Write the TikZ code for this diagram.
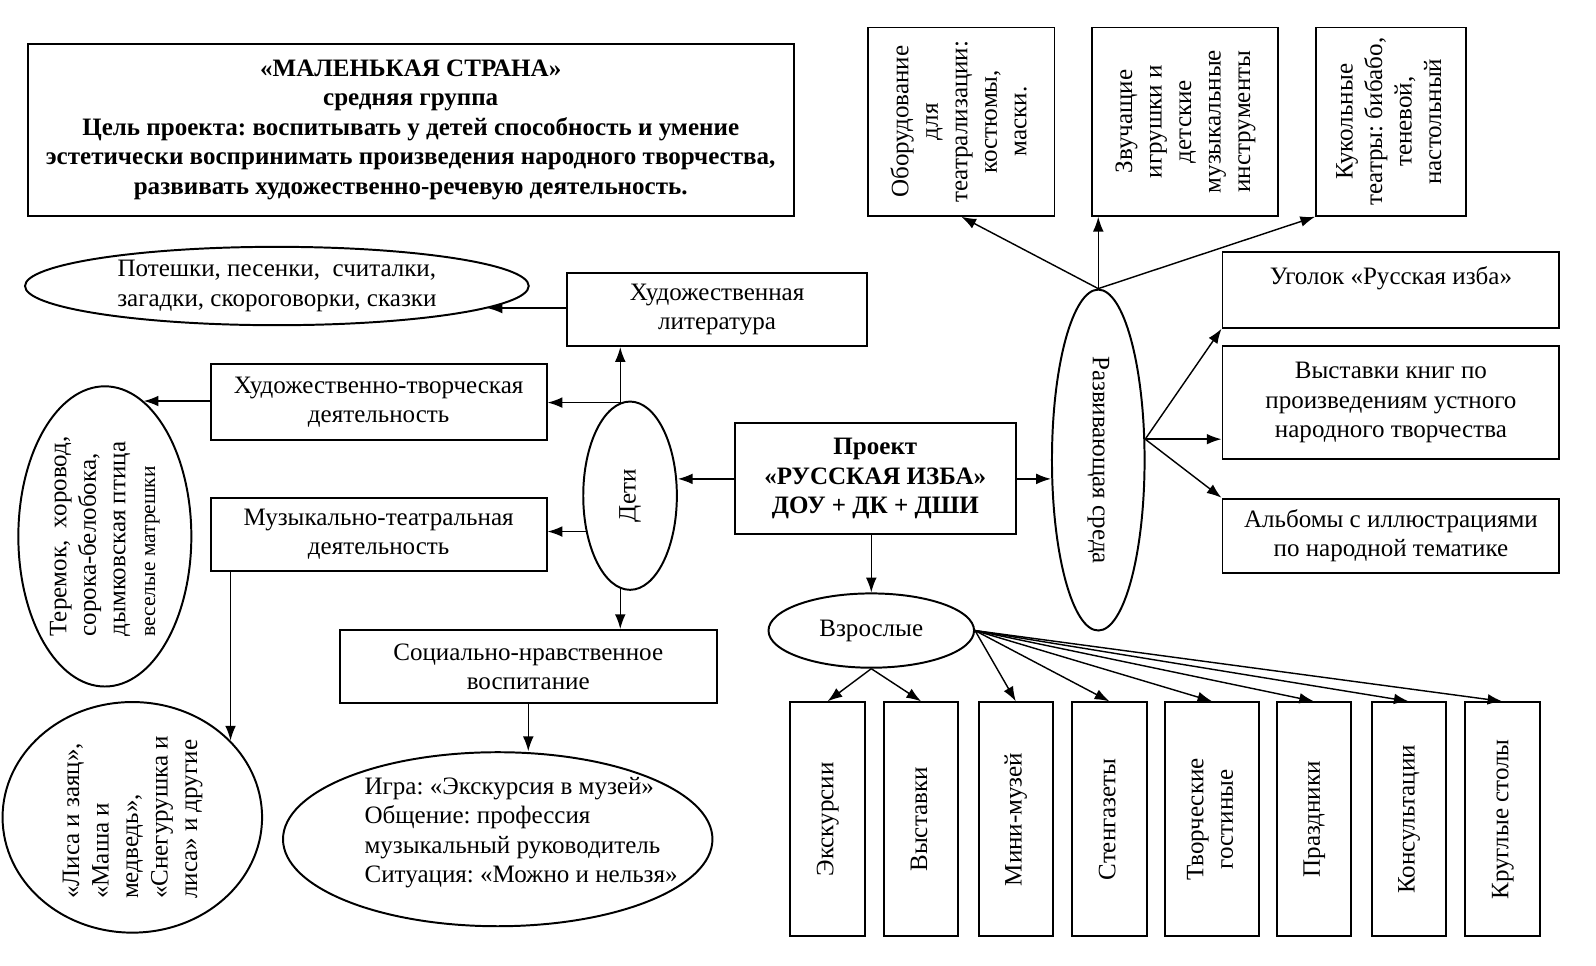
\documentclass[tikz,border=0pt]{standalone}
\usepackage{fontspec}
\setmainfont{Liberation Serif}
\usepackage{graphicx}
\usetikzlibrary{shapes, arrows.meta, positioning, calc}
\frenchspacing

\newcommand{\vtxt}[2][90]{\rotatebox{#1}{\begin{tabular}{@{}c@{}}#2\end{tabular}}}
\newcommand{\vtxtl}[1]{\rotatebox{90}{\begin{tabular}{@{}l@{}}#1\end{tabular}}}

\begin{document}
\begin{tikzpicture}[x=0.02cm, y=-0.02cm,
  font=\fontsize{14}{16.5}\selectfont,
  box/.style={draw, line width=1.1pt, align=center, inner sep=2pt},
  oval/.style={draw, ellipse, line width=1.1pt, align=center, inner sep=0pt},
  tallbox/.style={box, minimum width=1.46cm, minimum height=4.6cm},
  arr/.style={-{Latex[length=2.9mm, width=2.1mm]}, line width=0.8pt}]
  \useasboundingbox (0,0) rectangle (1568,949);

  % Title
  \node[box, font=\fontsize{14}{16.5}\selectfont\bfseries, minimum width=15.06cm, minimum height=3.38cm] (title) at (403.5,127.5) {
    «МАЛЕНЬКАЯ СТРАНА»\\
    средняя группа\\
    Цель проекта: воспитывать у детей способность и умение\\
    эстетически воспринимать произведения народного творчества,\\
    развивать художественно-речевую деятельность.
  };

  % Environment, top row
  \node[box, minimum width=3.66cm, minimum height=3.7cm] (equip) at (944.5,119.5) {\vtxt{Оборудование\\для\\театрализации:\\костюмы,\\маски.}};
  \node[box, minimum width=3.66cm, minimum height=3.7cm] (toys) at (1164.5,119.5) {\vtxt{Звучащие\\игрушки и\\детские\\музыкальные\\инструменты}};
  \node[box, minimum width=2.94cm, minimum height=3.7cm] (puppet) at (1366.5,119.5) {\vtxt{Кукольные\\театры: бибабо,\\теневой,\\настольный}};

  % Environment
  \node[oval, minimum width=1.82cm, minimum height=6.7cm] (env) at (1079,452) {\rotatebox{-90}{Развивающая среда}};
  \node[box, minimum width=6.62cm, minimum height=1.48cm] (corner) at (1366.5,285) {Уголок «Русская изба»\\[-5pt] \strut};
  \node[box, minimum width=6.62cm, minimum height=2.22cm] (books) at (1366.5,395.5) {Выставки книг по\\произведениям устного\\народного творчества};
  \node[box, minimum width=6.62cm, minimum height=1.46cm] (album) at (1366.5,526.5) {Альбомы с иллюстрациями\\по народной тематике};

  % Project
  \node[box, font=\fontsize{14}{16.5}\selectfont\bfseries, minimum width=5.52cm, minimum height=2.18cm] (proj) at (860,470.5) {Проект\\«РУССКАЯ ИЗБА»\\ДОУ + ДК + ДШИ};

  % Children
  \node[oval, minimum width=1.84cm, minimum height=3.7cm] (kids) at (619,487) {\rotatebox{90}{Дети}};
  \node[box, minimum width=5.9cm, minimum height=1.44cm] (lit) at (704.5,304) {Художественная\\литература};
  \node[oval, minimum width=9.9cm, minimum height=1.54cm] (rhymes) at (272,281) {Потешки, песенки,\ \ считалки,\\загадки, скороговорки, сказки};
  \node[box, minimum width=6.6cm, minimum height=1.48cm] (art) at (372,395) {Художественно-творческая\\деятельность};
  \node[oval, minimum width=3.4cm, minimum height=5.9cm] (teremok) at (103,527) {\vtxtl{Теремок,\ \ хоровод,\\сорока-белобока,\\дымковская птица\\{\fontsize{12}{14}\selectfont веселые матрешки}}};
  \node[box, minimum width=6.6cm, minimum height=1.44cm] (music) at (372,525) {Музыкально-театральная\\деятельность};
  \node[oval, minimum width=5.1cm, minimum height=4.5cm] (fox) at (130,803) {\vtxtl{«Лиса и заяц»,\\«Маша и\\медведь»,\\«Снегурушка и\\лиса» и другие}};
  \node[box, minimum width=7.4cm, minimum height=1.44cm] (social) at (519,655) {Социально-нравственное\\воспитание};
  \node[oval, minimum width=8.44cm, minimum height=3.42cm] (game) at (489,824.5) {};
  \node[align=left] (gametext) at (512,818) {Игра: «Экскурсия в музей»\\Общение: профессия\\музыкальный руководитель\\Ситуация: «Можно и нельзя»};

  % Adults
  \node[oval, minimum width=4.04cm, minimum height=1.46cm] (adults) at (856,619.5) {Взрослые};
  \node[tallbox] (excur) at (813,805) {\vtxt{Экскурсии}};
  \node[tallbox] (exhib) at (905,805) {\vtxt{Выставки}};
  \node[tallbox] (minimus) at (998,805) {\vtxt{Мини-музей}};
  \node[tallbox] (news) at (1090,805) {\vtxt{Стенгазеты}};
  \node[tallbox, minimum width=1.84cm] (salon) at (1191,805) {\vtxt{Творческие\\гостиные}};
  \node[tallbox] (fest) at (1291,805) {\vtxt{Праздники}};
  \node[tallbox] (consult) at (1384,805) {\vtxt{Консультации}};
  \node[tallbox] (round) at (1476,805) {\vtxt{Круглые столы}};

  % Project links
  \draw[arr] (proj.west) -- (proj.west -| kids.east);
  \draw[arr] (proj.east) -- (proj.east -| env.west);
  \draw[arr] (proj.south -| adults.north) -- (adults.north);

  % Children links
  \draw[arr] (kids.96) -- (kids.96 |- lit.south);
  \draw[arr] (kids.96) -- (kids.96 -| art.east);
  \draw[arr] (kids.219) -- (kids.219 -| music.east);
  \draw[arr] (kids.264) -- (kids.264 |- social.north);
  \draw[arr] (rhymes.-6 -| lit.west) -- (rhymes.-6);
  \draw[arr] (teremok.74 -| art.west) -- (teremok.74);
  \draw[arr] (fox.38 |- music.south) -- (fox.38);
  \draw[arr] (social.south) -- (social.south |- game.north);

  % Environment links
  \draw[arr] (env.north) -- (equip.south);
  \draw[arr] (env.north) -- (env.north |- toys.south);
  \draw[arr] (env.north) -- (puppet.south west);
  \draw[arr] (env.24) -- (corner.south west);
  \draw[arr] (env.24) -- (env.24 -| books.west);
  \draw[arr] (env.24) -- (album.north west);

  % Adults links
  \draw[arr] (adults.south) -- (excur.north);
  \draw[arr] (adults.south) -- (exhib.north);
  \draw[arr] (adults.east) -- (minimus.north);
  \draw[arr] (adults.east) -- (news.north);
  \draw[arr] (adults.east) -- (salon.north);
  \draw[arr] (adults.east) -- (fest.north);
  \draw[arr] (adults.east) -- (consult.north);
  \draw[arr] (adults.east) -- (round.north);
\end{tikzpicture}
\end{document}
